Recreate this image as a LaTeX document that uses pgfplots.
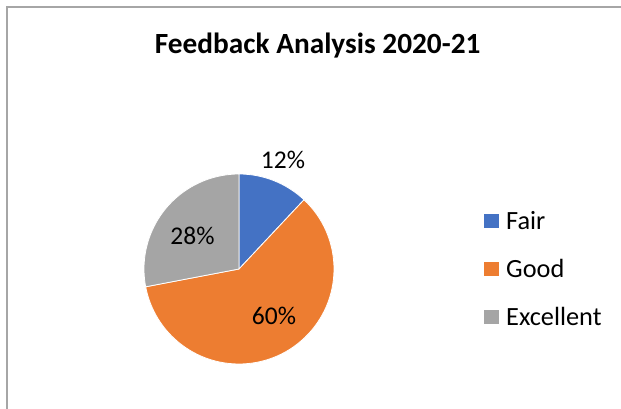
\documentclass[border=0pt]{standalone}
\usepackage{pgfplots}
\pgfplotsset{compat=1.18}
\usepackage{fontspec}
\setmainfont{Carlito}
\definecolor{pieblue}{RGB}{68,114,196}
\definecolor{pieorange}{RGB}{237,125,49}
\definecolor{piegray}{RGB}{165,165,165}
\definecolor{frame}{RGB}{166,166,166}

\begin{document}
\begin{tikzpicture}
\begin{axis}[
  x=1bp, y=1bp,
  xmin=0, xmax=621, ymin=0, ymax=409,
  hide axis, clip=false,
  scale only axis,
  anchor=origin, at={(0,0)},
]
% chart frame (cut at right and bottom)
\draw[frame, line width=1.5bp] (axis cs:7,0) -- (axis cs:7,402) -- (axis cs:621,402);

% shares in percent: Fair 12, Good 60, Excellent 28 (clockwise from 12 o'clock)
\pgfmathsetmacro{\aA}{90}
\pgfmathsetmacro{\aB}{90-12*3.6}
\pgfmathsetmacro{\aC}{\aB-60*3.6}
\pgfmathsetmacro{\aD}{\aC-28*3.6}
\fill[pieblue, draw=white, line width=0.8bp] (axis cs:239,140) -- ++(\aA:95bp)
  arc[start angle=\aA, end angle=\aB, radius=95bp] -- cycle;
\fill[pieorange, draw=white, line width=0.8bp] (axis cs:239,140) -- ++(\aB:95bp)
  arc[start angle=\aB, end angle=\aC, radius=95bp] -- cycle;
\fill[piegray, draw=white, line width=0.8bp] (axis cs:239,140) -- ++(\aC:95bp)
  arc[start angle=\aC, end angle=\aD, radius=95bp] -- cycle;

% data labels
\node[anchor=base, font=\fontsize{25.5bp}{30bp}\selectfont, inner sep=0pt] at (axis cs:283,240.7) {12\%};
\node[anchor=base, font=\fontsize{25.5bp}{30bp}\selectfont, inner sep=0pt] at (axis cs:192.5,165) {28\%};
\node[anchor=base, font=\fontsize{25.5bp}{30bp}\selectfont, inner sep=0pt] at (axis cs:274,85) {60\%};

% title
\node[anchor=base, font=\fontsize{29.3bp}{34bp}\selectfont\bfseries, inner sep=0pt] at (axis cs:317.7,355.7) {Feedback Analysis 2020-21};

% legend
\fill[pieblue] (axis cs:484,180.7) rectangle (axis cs:498.7,195);
\fill[pieorange] (axis cs:484,132.7) rectangle (axis cs:498.7,147);
\fill[piegray] (axis cs:484,84.7) rectangle (axis cs:498.7,99);
\node[anchor=base west, font=\fontsize{26.3bp}{30bp}\selectfont, inner sep=0pt] at (axis cs:506,179.7) {Fair};
\node[anchor=base west, font=\fontsize{26.3bp}{30bp}\selectfont, inner sep=0pt] at (axis cs:506,132) {Good};
\node[anchor=base west, font=\fontsize{26.3bp}{30bp}\selectfont, inner sep=0pt] at (axis cs:506,83.7) {Excellent};
\end{axis}
\pgfresetboundingbox
\path (0,0) rectangle (621bp,409bp);
\end{tikzpicture}
\end{document}
